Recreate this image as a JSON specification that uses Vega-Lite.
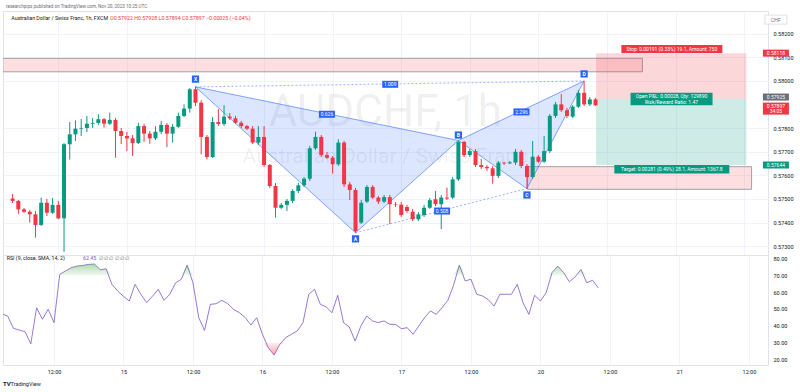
{
"$schema": "https://vega.github.io/schema/vega-lite/v6.json",
"padding": {"left": 2, "top": 3, "right": 0, "bottom": 0},
"background": "white",
"spacing": 0,
"bounds": "flush",
"config": {"view": {"stroke": "#e0e3eb"}, "font": "Roboto", "axis": {"labelFont": "Roboto"}, "text": {"font": "Roboto"}},
"datasets": {
"candles": [
{"i":4,"o":0.57502,"h":0.57521,"l":0.57483,"c":0.57492},
{"i":5,"o":0.57492,"h":0.57496,"l":0.57437,"c":0.57456},
{"i":6,"o":0.57456,"h":0.57462,"l":0.57441,"c":0.57446},
{"i":7,"o":0.57446,"h":0.57453,"l":0.57400,"c":0.57435},
{"i":8,"o":0.57435,"h":0.57449,"l":0.57336,"c":0.57390},
{"i":9,"o":0.57390,"h":0.57506,"l":0.57386,"c":0.57484},
{"i":10,"o":0.57484,"h":0.57500,"l":0.57428,"c":0.57442},
{"i":11,"o":0.57442,"h":0.57504,"l":0.57437,"c":0.57475},
{"i":12,"o":0.57475,"h":0.57492,"l":0.57415,"c":0.57418},
{"i":13,"o":0.57418,"h":0.57737,"l":0.57276,"c":0.57732},
{"i":14,"o":0.57732,"h":0.57826,"l":0.57667,"c":0.57774},
{"i":15,"o":0.57774,"h":0.57833,"l":0.57746,"c":0.57798},
{"i":16,"o":0.57798,"h":0.57839,"l":0.57767,"c":0.57801},
{"i":17,"o":0.57801,"h":0.57852,"l":0.57784,"c":0.57819},
{"i":18,"o":0.57819,"h":0.57843,"l":0.57801,"c":0.57822},
{"i":19,"o":0.57822,"h":0.57859,"l":0.57814,"c":0.57838},
{"i":20,"o":0.57838,"h":0.57843,"l":0.57802,"c":0.57819},
{"i":21,"o":0.57819,"h":0.57866,"l":0.57814,"c":0.57835},
{"i":22,"o":0.57835,"h":0.57843,"l":0.57675,"c":0.57788},
{"i":23,"o":0.57788,"h":0.57801,"l":0.57733,"c":0.57767},
{"i":24,"o":0.57767,"h":0.57784,"l":0.57703,"c":0.57757},
{"i":25,"o":0.57757,"h":0.57771,"l":0.57682,"c":0.57737},
{"i":26,"o":0.57737,"h":0.57823,"l":0.57733,"c":0.57809},
{"i":27,"o":0.57809,"h":0.57819,"l":0.57742,"c":0.57777},
{"i":28,"o":0.57777,"h":0.57788,"l":0.57734,"c":0.57757},
{"i":29,"o":0.57757,"h":0.57808,"l":0.57750,"c":0.57785},
{"i":30,"o":0.57785,"h":0.57831,"l":0.57775,"c":0.57814},
{"i":31,"o":0.57814,"h":0.57822,"l":0.57720,"c":0.57777},
{"i":32,"o":0.57777,"h":0.57818,"l":0.57739,"c":0.57806},
{"i":33,"o":0.57806,"h":0.57866,"l":0.57801,"c":0.57852},
{"i":34,"o":0.57852,"h":0.57901,"l":0.57847,"c":0.57883},
{"i":35,"o":0.57883,"h":0.57970,"l":0.57866,"c":0.57965},
{"i":36,"o":0.57965,"h":0.57975,"l":0.57894,"c":0.57908},
{"i":37,"o":0.57908,"h":0.57919,"l":0.57689,"c":0.57763},
{"i":38,"o":0.57763,"h":0.57771,"l":0.57668,"c":0.57678},
{"i":39,"o":0.57678,"h":0.57847,"l":0.57674,"c":0.57826},
{"i":40,"o":0.57826,"h":0.57881,"l":0.57809,"c":0.57818},
{"i":41,"o":0.57818,"h":0.57897,"l":0.57809,"c":0.57849},
{"i":42,"o":0.57849,"h":0.57864,"l":0.57835,"c":0.57842},
{"i":43,"o":0.57842,"h":0.57852,"l":0.57818,"c":0.57823},
{"i":44,"o":0.57823,"h":0.57831,"l":0.57801,"c":0.57809},
{"i":45,"o":0.57809,"h":0.57814,"l":0.57792,"c":0.57798},
{"i":46,"o":0.57798,"h":0.57809,"l":0.57733,"c":0.57739},
{"i":47,"o":0.57739,"h":0.57809,"l":0.57729,"c":0.57763},
{"i":48,"o":0.57763,"h":0.57809,"l":0.57636,"c":0.57644},
{"i":49,"o":0.57644,"h":0.57648,"l":0.57547,"c":0.57555},
{"i":50,"o":0.57555,"h":0.57568,"l":0.57421,"c":0.57463},
{"i":51,"o":0.57463,"h":0.57483,"l":0.57458,"c":0.57475},
{"i":52,"o":0.57475,"h":0.57500,"l":0.57449,"c":0.57492},
{"i":53,"o":0.57492,"h":0.57542,"l":0.57483,"c":0.57534},
{"i":54,"o":0.57534,"h":0.57568,"l":0.57525,"c":0.57558},
{"i":55,"o":0.57558,"h":0.57593,"l":0.57551,"c":0.57586},
{"i":56,"o":0.57586,"h":0.57725,"l":0.57576,"c":0.57715},
{"i":57,"o":0.57715,"h":0.57785,"l":0.57708,"c":0.57763},
{"i":58,"o":0.57763,"h":0.57771,"l":0.57678,"c":0.57686},
{"i":59,"o":0.57686,"h":0.57699,"l":0.57670,"c":0.57675},
{"i":60,"o":0.57675,"h":0.57682,"l":0.57607,"c":0.57647},
{"i":61,"o":0.57647,"h":0.57753,"l":0.57640,"c":0.57739},
{"i":62,"o":0.57739,"h":0.57746,"l":0.57551,"c":0.57562},
{"i":63,"o":0.57562,"h":0.57572,"l":0.57496,"c":0.57538},
{"i":64,"o":0.57538,"h":0.57547,"l":0.57357,"c":0.57364},
{"i":65,"o":0.57400,"h":0.57496,"l":0.57394,"c":0.57484},
{"i":66,"o":0.57489,"h":0.57559,"l":0.57483,"c":0.57551},
{"i":67,"o":0.57551,"h":0.57559,"l":0.57500,"c":0.57506},
{"i":68,"o":0.57506,"h":0.57513,"l":0.57479,"c":0.57489},
{"i":69,"o":0.57489,"h":0.57517,"l":0.57483,"c":0.57508},
{"i":70,"o":0.57508,"h":0.57517,"l":0.57394,"c":0.57478},
{"i":71,"o":0.57478,"h":0.57487,"l":0.57466,"c":0.57476},
{"i":72,"o":0.57476,"h":0.57487,"l":0.57424,"c":0.57432},
{"i":73,"o":0.57466,"h":0.57475,"l":0.57441,"c":0.57449},
{"i":74,"o":0.57446,"h":0.57458,"l":0.57407,"c":0.57414},
{"i":75,"o":0.57414,"h":0.57445,"l":0.57407,"c":0.57435},
{"i":76,"o":0.57432,"h":0.57475,"l":0.57424,"c":0.57463},
{"i":77,"o":0.57463,"h":0.57504,"l":0.57458,"c":0.57495},
{"i":78,"o":0.57499,"h":0.57534,"l":0.57470,"c":0.57478},
{"i":79,"o":0.57478,"h":0.57517,"l":0.57372,"c":0.57506},
{"i":80,"o":0.57506,"h":0.57548,"l":0.57496,"c":0.57502},
{"i":81,"o":0.57506,"h":0.57593,"l":0.57500,"c":0.57583},
{"i":82,"o":0.57583,"h":0.57748,"l":0.57576,"c":0.57742},
{"i":83,"o":0.57742,"h":0.57746,"l":0.57678,"c":0.57686},
{"i":84,"o":0.57686,"h":0.57712,"l":0.57678,"c":0.57703},
{"i":85,"o":0.57703,"h":0.57712,"l":0.57636,"c":0.57644},
{"i":86,"o":0.57644,"h":0.57670,"l":0.57627,"c":0.57636},
{"i":87,"o":0.57636,"h":0.57644,"l":0.57619,"c":0.57630},
{"i":88,"o":0.57630,"h":0.57640,"l":0.57565,"c":0.57598},
{"i":89,"o":0.57598,"h":0.57661,"l":0.57589,"c":0.57654},
{"i":90,"o":0.57654,"h":0.57657,"l":0.57644,"c":0.57651},
{"i":91,"o":0.57651,"h":0.57661,"l":0.57648,"c":0.57655},
{"i":92,"o":0.57655,"h":0.57712,"l":0.57644,"c":0.57700},
{"i":93,"o":0.57700,"h":0.57708,"l":0.57631,"c":0.57640},
{"i":94,"o":0.57640,"h":0.57648,"l":0.57544,"c":0.57593},
{"i":95,"o":0.57593,"h":0.57746,"l":0.57585,"c":0.57679},
{"i":96,"o":0.57679,"h":0.57686,"l":0.57653,"c":0.57658},
{"i":97,"o":0.57658,"h":0.57767,"l":0.57653,"c":0.57703},
{"i":98,"o":0.57703,"h":0.57860,"l":0.57695,"c":0.57852},
{"i":99,"o":0.57852,"h":0.57911,"l":0.57843,"c":0.57901},
{"i":100,"o":0.57901,"h":0.57945,"l":0.57869,"c":0.57876},
{"i":101,"o":0.57876,"h":0.57886,"l":0.57843,"c":0.57852},
{"i":102,"o":0.57849,"h":0.57898,"l":0.57843,"c":0.57891},
{"i":103,"o":0.57891,"h":0.57962,"l":0.57886,"c":0.57950},
{"i":104,"o":0.57950,"h":0.58000,"l":0.57894,"c":0.57901},
{"i":105,"o":0.57901,"h":0.57932,"l":0.57894,"c":0.57922},
{"i":106,"o":0.57922,"h":0.57928,"l":0.57894,"c":0.57897}
],
"rsi": [
{"i":3,"r":47.0},{"i":4,"r":45.8},{"i":5,"r":38.5},{"i":6,"r":37.5},{"i":7,"r":36.5},{"i":8,"r":29.4},{"i":9,"r":50.7},{"i":10,"r":43.9},{"i":11,"r":49.8},{"i":12,"r":41.9},
{"i":13,"r":70.5},{"i":14,"r":72.5},{"i":15,"r":74.5},{"i":16,"r":75.4},{"i":17,"r":75.8},{"i":18,"r":76.4},{"i":19,"r":76.6},{"i":20,"r":73.2},{"i":21,"r":73.8},{"i":22,"r":64.6},
{"i":23,"r":60.6},{"i":24,"r":57.5},{"i":25,"r":54.7},{"i":26,"r":64.6},{"i":27,"r":58.7},{"i":28,"r":53.7},{"i":29,"r":57.5},{"i":30,"r":61.6},{"i":31,"r":55.1},{"i":32,"r":58.7},
{"i":33,"r":65.5},{"i":34,"r":67.6},{"i":35,"r":76.0},{"i":36,"r":65.5},{"i":37,"r":44.8},{"i":38,"r":37.3},{"i":39,"r":52.7},{"i":40,"r":53.1},{"i":41,"r":55.1},{"i":42,"r":53.1},
{"i":43,"r":49.8},{"i":44,"r":47.8},{"i":45,"r":45.0},{"i":46,"r":40.5},{"i":47,"r":44.8},{"i":48,"r":35.0},{"i":49,"r":27.0},{"i":50,"r":22.7},{"i":51,"r":29.0},{"i":52,"r":33.0},
{"i":53,"r":35.0},{"i":54,"r":36.9},{"i":55,"r":41.9},{"i":56,"r":58.7},{"i":57,"r":61.6},{"i":58,"r":52.7},{"i":59,"r":51.2},{"i":60,"r":47.8},{"i":61,"r":58.1},{"i":62,"r":41.9},
{"i":63,"r":39.3},{"i":64,"r":31.0},{"i":65,"r":39.9},{"i":66,"r":45.8},{"i":67,"r":42.9},{"i":68,"r":41.9},{"i":69,"r":42.9},{"i":70,"r":40.9},{"i":71,"r":40.8},{"i":72,"r":38.3},
{"i":73,"r":38.9},{"i":74,"r":35.0},{"i":75,"r":39.9},{"i":76,"r":44.8},{"i":77,"r":48.8},{"i":78,"r":46.8},{"i":79,"r":50.7},{"i":80,"r":55.0},{"i":81,"r":64.0},{"i":82,"r":76.0},
{"i":83,"r":66.6},{"i":84,"r":67.6},{"i":85,"r":58.7},{"i":86,"r":57.7},{"i":87,"r":55.5},{"i":88,"r":51.7},{"i":89,"r":58.7},{"i":90,"r":58.7},{"i":91,"r":58.7},{"i":92,"r":64.6},
{"i":93,"r":53.7},{"i":94,"r":46.8},{"i":95,"r":58.1},{"i":96,"r":54.7},{"i":97,"r":59.7},{"i":98,"r":71.5},{"i":99,"r":75.4},{"i":100,"r":71.5},{"i":101,"r":66.1},{"i":102,"r":69.0},
{"i":103,"r":73.4},{"i":104,"r":65.5},{"i":105,"r":67.0},{"i":106,"r":62.45}
],
"zones": [
{"k":"sd","i":2,"i2":114.2,"p":0.58039,"p2":0.58096},
{"k":"sd","i":94.1,"i2":133.3,"p":0.57541,"p2":0.57637},
{"k":"stop","i":106.1,"i2":132.4,"p":0.57925,"p2":0.58118},
{"k":"tgt","i":106.1,"i2":132.4,"p":0.57644,"p2":0.57925}
]
},
"vconcat": [
{
"width": 765, "height": 244,
"encoding": {
 "x": {"field": "i", "type": "quantitative", "scale": {"domain": [3.195, 135.3], "nice": false, "zero": false},
  "axis": {"values": [12,24,36,48,60,72,84,96,108,120,132], "labels": false, "ticks": false, "domain": false, "grid": true, "gridColor": "#f0f3fa", "title": null}},
 "y": {"field": "p", "type": "quantitative", "scale": {"domain": [0.572627, 0.582966], "nice": false, "zero": false},
  "axis": {"orient": "right", "values": [0.573,0.574,0.575,0.576,0.577,0.578,0.58,0.581,0.582], "format": ".5f", "labelFontSize": 5.5, "labelColor": "#131722", "ticks": false, "domain": false, "labelPadding": 5, "grid": true, "gridColor": "#f0f3fa", "title": null}}
},
"layer": [
 {"data": {"name": "zones"}, "transform": [{"filter": "datum.k == 'sd'"}],
  "mark": {"type": "rect", "fill": "rgba(242,54,69,0.16)", "stroke": "#8a8d96", "strokeWidth": 0.8, "clip": true},
  "encoding": {"x2": {"field": "i2"}, "y2": {"field": "p2"}}},
 {"data": {"name": "zones"}, "transform": [{"filter": "datum.k != 'sd'"}],
  "mark": {"type": "rect", "clip": true},
  "encoding": {"x2": {"field": "i2"}, "y2": {"field": "p2"},
   "color": {"condition": {"test": "datum.k == 'stop'", "value": "rgba(242,54,69,0.2)"}, "value": "rgba(8,153,129,0.2)"}}},
 {"data": {"values": [{"t": "AUDCHF, 1h", "i": 69.2, "p": 0.57809}]},
  "mark": {"type": "text", "fontSize": 44, "color": "rgba(19,23,34,0.07)", "baseline": "alphabetic", "align": "center"},
  "encoding": {"text": {"field": "t"}}},
 {"data": {"values": [{"t": "Australian Dollar / Swiss Franc", "i": 69.2, "p": 0.57654}]},
  "mark": {"type": "text", "fontSize": 21, "color": "rgba(19,23,34,0.07)", "baseline": "alphabetic", "align": "center"},
  "encoding": {"text": {"field": "t"}}},
 {"data": {"values": [
   {"g":"XAB","o":1,"i":36,"p":0.57975},{"g":"XAB","o":2,"i":64,"p":0.57357},{"g":"XAB","o":3,"i":82,"p":0.57748},{"g":"XAB","o":4,"i":36,"p":0.57975},
   {"g":"BCD","o":1,"i":82,"p":0.57748},{"g":"BCD","o":2,"i":94,"p":0.57544},{"g":"BCD","o":3,"i":104,"p":0.58000},{"g":"BCD","o":4,"i":82,"p":0.57748}]},
  "mark": {"type": "line", "fill": "rgba(41,98,255,0.16)", "stroke": "#2962ff", "strokeWidth": 0.8, "strokeOpacity": 0.7},
  "encoding": {"detail": {"field": "g"}, "order": {"field": "o"}}},
 {"data": {"values": [
   {"g":"XD","i":36,"p":0.57975},{"g":"XD","i":104,"p":0.58000},{"g":"AC","i":64,"p":0.57357},{"g":"AC","i":94,"p":0.57544}]},
  "mark": {"type": "line", "stroke": "#2962ff", "strokeWidth": 0.8, "strokeOpacity": 0.6, "strokeDash": [2, 2]},
  "encoding": {"detail": {"field": "g"}}},
 {"data": {"name": "candles"},
  "mark": {"type": "rule", "strokeWidth": 1},
  "encoding": {"y": {"field": "l", "type": "quantitative"}, "y2": {"field": "h"},
   "color": {"condition": {"test": "datum.c >= datum.o", "value": "#089981"}, "value": "#f23645"}}},
 {"data": {"name": "candles"},
  "mark": {"type": "bar", "width": 4},
  "encoding": {"y": {"field": "o", "type": "quantitative"}, "y2": {"field": "c"},
   "color": {"condition": {"test": "datum.c >= datum.o", "value": "#089981"}, "value": "#f23645"}}},
 {"data": {"values": [{}]},
  "mark": {"type": "rule", "color": "#f23645", "strokeDash": [1, 2], "strokeWidth": 0.8},
  "encoding": {"x": {"datum": 3.195}, "x2": {"datum": 135.3}, "y": {"datum": 0.57897}}},
 {"data": {"values": [{"t":"X","i":36,"p":0.58008},{"t":"A","i":64,"p":0.57331},{"t":"B","i":82,"p":0.57771},{"t":"C","i":94,"p":0.57517},{"t":"D","i":104,"p":0.5803}]},
  "layer": [
   {"mark": {"type": "point", "shape": "square", "size": 52, "filled": true, "color": "#2962ff", "opacity": 1, "strokeWidth": 0}},
   {"mark": {"type": "text", "fontSize": 5, "color": "white", "fontWeight": "bold", "baseline": "middle", "align": "center"}, "encoding": {"text": {"field": "t"}}}
  ]},
 {"data": {"values": [{"t":"0.626","i":59,"p":0.57859},{"t":"1.009","i":70.07,"p":0.57986},{"t":"0.508","i":79.15,"p":0.57449},{"t":"2.296","i":93.04,"p":0.57869}]},
  "layer": [
   {"mark": {"type": "point", "shape": "M-1,-0.4375L1,-0.4375L1,0.4375L-1,0.4375Z", "size": 256, "filled": true, "color": "#2962ff", "opacity": 1, "strokeWidth": 0}},
   {"mark": {"type": "text", "fontSize": 5, "color": "white", "baseline": "middle", "align": "center"}, "encoding": {"text": {"field": "t"}}}
  ]},
 {"data": {"values": [{"t":"Stop: 0.00191 (0.33%) 19.1, Amount: 750","i":119.35,"p":0.58136}]},
  "layer": [
   {"mark": {"type": "point", "shape": "M-1,-0.0792L1,-0.0792L1,0.0792L-1,0.0792Z", "size": 10201, "filled": true, "color": "#f23645", "opacity": 1, "strokeWidth": 0}},
   {"mark": {"type": "text", "fontSize": 5, "color": "white", "baseline": "middle", "align": "center"}, "encoding": {"text": {"field": "t"}}}
  ]},
 {"data": {"values": [{"t":"","i":119.3,"p":0.57924}]},
  "mark": {"type": "point", "shape": "M-1,-0.1537L1,-0.1537L1,0.1537L-1,0.1537Z", "size": 6724, "filled": true, "color": "#089981", "opacity": 1, "strokeWidth": 0}},
 {"data": {"values": [{"t":"Open P&L: 0.00028, Qty: 129890","i":119.3,"p":0.57937},{"t":"Risk/Reward Ratio: 1.47","i":119.3,"p":0.57911}]},
  "mark": {"type": "text", "fontSize": 5, "color": "white", "baseline": "middle", "align": "center"}, "encoding": {"text": {"field": "t"}}},
 {"data": {"values": [{"t":"Target: 0.00281 (0.49%) 28.1, Amount: 1367.8","i":119.35,"p":0.57626}]},
  "layer": [
   {"mark": {"type": "point", "shape": "M-1,-0.0757L1,-0.0757L1,0.0757L-1,0.0757Z", "size": 13225, "filled": true, "color": "#089981", "opacity": 1, "strokeWidth": 0}},
   {"mark": {"type": "text", "fontSize": 5, "color": "white", "baseline": "middle", "align": "center"}, "encoding": {"text": {"field": "t"}}}
  ]},
 {"data": {"values": [{"k":"stop","t":"0.58118","i":137.56,"p":0.58118},{"k":"entry","t":"0.57925","i":137.56,"p":0.57932},{"k":"tgt","t":"0.57644","i":137.56,"p":0.57644}]},
  "layer": [
   {"mark": {"type": "point", "shape": "M-1,-0.269L1,-0.269L1,0.269L-1,0.269Z", "size": 676, "filled": true, "opacity": 1, "strokeWidth": 0},
    "encoding": {"color": {"condition": [{"test": "datum.k == 'stop'", "value": "#f23645"}, {"test": "datum.k == 'tgt'", "value": "#089981"}], "value": "#6a6d78"}}},
   {"mark": {"type": "text", "fontSize": 5, "color": "white", "baseline": "middle", "align": "center"}, "encoding": {"text": {"field": "t"}}}
  ]},
 {"data": {"values": [{"i":137.56,"p":0.57883}]},
  "mark": {"type": "point", "shape": "M-1,-0.4615L1,-0.4615L1,0.4615L-1,0.4615Z", "size": 676, "filled": true, "color": "#f23645", "opacity": 1, "strokeWidth": 0}},
 {"data": {"values": [{"t":"0.57897","i":137.56,"p":0.57894},{"t":"34:05","i":137.56,"p":0.57871}]},
  "mark": {"type": "text", "fontSize": 5, "color": "white", "baseline": "middle", "align": "center"}, "encoding": {"text": {"field": "t"}}},
 {"data": {"values": [{"t":"CHF","i":137.56,"p":0.5826}]},
  "layer": [
   {"mark": {"type": "point", "shape": "M-1,-0.409L1,-0.409L1,0.409L-1,0.409Z", "size": 484, "filled": true, "color": "white", "opacity": 1, "stroke": "#d1d4dc", "strokeWidth": 0.7}},
   {"mark": {"type": "text", "fontSize": 5, "color": "#6a6d78", "baseline": "middle", "align": "center"}, "encoding": {"text": {"field": "t"}}}
  ]},
 {"data": {"values": [{"t":"researchpips published on TradingView.com, Nov 20, 2023 10:25 UTC","i":2.85,"p":0.583263}]},
  "mark": {"type": "text", "fontSize": 4.6, "color": "#6a6d78", "baseline": "top", "align": "left"}, "encoding": {"text": {"field": "t"}}},
 {"data": {"values": [{"t":"Australian Dollar / Swiss Franc, 1h, FXCM","i":3.77,"p":0.58268}]},
  "mark": {"type": "text", "fontSize": 5.3, "color": "#131722", "baseline": "middle", "align": "left"}, "encoding": {"text": {"field": "t"}}},
 {"data": {"values": [{"t":"O0.57922 H0.57928 L0.57894 C0.57897 −0.00025 (−0.04%)","i":21.04,"p":0.58268}]},
  "mark": {"type": "text", "fontSize": 5.3, "color": "#f23645", "baseline": "middle", "align": "left"}, "encoding": {"text": {"field": "t"}}}
]
},
{
"width": 765, "height": 110,
"encoding": {
 "x": {"field": "i", "type": "quantitative", "scale": {"domain": [3.195, 135.3], "nice": false, "zero": false},
  "axis": {"values": [12,24,36,48,60,72,84,96,108,120,132], "labelExpr": "datum.value % 24 == 12 ? '12:00' : datum.value == 24 ? '15' : datum.value == 48 ? '16' : datum.value == 72 ? '17' : datum.value == 96 ? '20' : '21'", "labelFontSize": 5.5, "labelColor": "#131722", "ticks": false, "domain": false, "labelPadding": 4, "grid": true, "gridColor": "#f0f3fa", "title": null}},
 "y": {"field": "r", "type": "quantitative", "scale": {"domain": [16.79, 81.96], "nice": false, "zero": false},
  "axis": {"orient": "right", "values": [20,30,40,50,60,70,80], "format": ".2f", "labelFontSize": 5.5, "labelColor": "#131722", "ticks": false, "domain": false, "labelPadding": 5, "grid": false, "title": null}}
},
"layer": [
 {"layer": [
   {"data": {"values": [{}]},
    "mark": {"type": "rect", "color": "rgba(126,87,194,0.1)"},
    "encoding": {"x": {"datum": 3.195}, "x2": {"datum": 135.3}, "y": {"datum": 30}, "y2": {"datum": 70}}},
   {"data": {"values": [{"r": 70}, {"r": 30}]},
    "mark": {"type": "rule", "color": "#787b86", "strokeDash": [3, 3], "strokeWidth": 0.7, "opacity": 0.7},
    "encoding": {"x": {"datum": 3.195}, "x2": {"datum": 135.3}}},
   {"data": {"values": [{"r": 50}]},
    "mark": {"type": "rule", "color": "#787b86", "strokeDash": [1, 2], "strokeWidth": 0.7, "opacity": 0.5},
    "encoding": {"x": {"datum": 3.195}, "x2": {"datum": 135.3}}},
   {"data": {"name": "rsi"},
    "mark": {"type": "line", "color": "#7e57c2", "strokeWidth": 0.8, "clip": true}},
   {"data": {"values": [{"t":"RSI (9, close, SMA, 14, 2)","i":3.83,"r":80.0}]},
    "mark": {"type": "text", "fontSize": 5.3, "color": "#131722", "baseline": "middle", "align": "left"}, "encoding": {"text": {"field": "t"}}},
   {"data": {"values": [{"t":"62.45","i":17.0,"r":80.0}]},
    "mark": {"type": "text", "fontSize": 5.3, "color": "#7e57c2", "baseline": "middle", "align": "left"}, "encoding": {"text": {"field": "t"}}},
   {"data": {"values": [{"t":"∅ ∅ ∅ ∅ ∅ ∅","i":19.7,"r":80.0}]},
    "mark": {"type": "text", "fontSize": 5.3, "color": "#6a6d78", "baseline": "middle", "align": "left"}, "encoding": {"text": {"field": "t"}}},
   {"data": {"values": [{"t":"TV","i":3.2,"r":5.5}]},
    "mark": {"type": "text", "fontSize": 6, "fontWeight": "bold", "color": "#131722", "baseline": "middle", "align": "left"}, "encoding": {"text": {"field": "t"}}},
   {"data": {"values": [{"t":"TradingView","i":4.5,"r":5.5}]},
    "mark": {"type": "text", "fontSize": 5.5, "color": "#131722", "baseline": "middle", "align": "left"}, "encoding": {"text": {"field": "t"}}}
 ]},
 {"data": {"name": "rsi"},
  "mark": {"type": "area", "clip": true, "fill": {"x1": 0, "y1": 0, "x2": 0, "y2": 1, "gradient": "linear", "stops": [{"offset": 0, "color": "rgba(76,175,80,0.45)"}, {"offset": 1, "color": "rgba(76,175,80,0.08)"}]}},
  "encoding": {"y": {"field": "r", "type": "quantitative", "scale": {"domain": [70, 81.96], "range": [20.19, 0], "clamp": true, "nice": false, "zero": false}, "axis": null}, "y2": {"datum": 70}}},
 {"data": {"name": "rsi"},
  "mark": {"type": "area", "clip": true, "fill": {"x1": 0, "y1": 1, "x2": 0, "y2": 0, "gradient": "linear", "stops": [{"offset": 0, "color": "rgba(242,54,69,0.45)"}, {"offset": 1, "color": "rgba(242,54,69,0.08)"}]}},
  "encoding": {"y": {"field": "r", "type": "quantitative", "scale": {"domain": [16.79, 30], "range": [110, 87.7], "clamp": true, "nice": false, "zero": false}, "axis": null}, "y2": {"datum": 30}}}
],
"resolve": {"scale": {"y": "independent"}}
}
]
}
